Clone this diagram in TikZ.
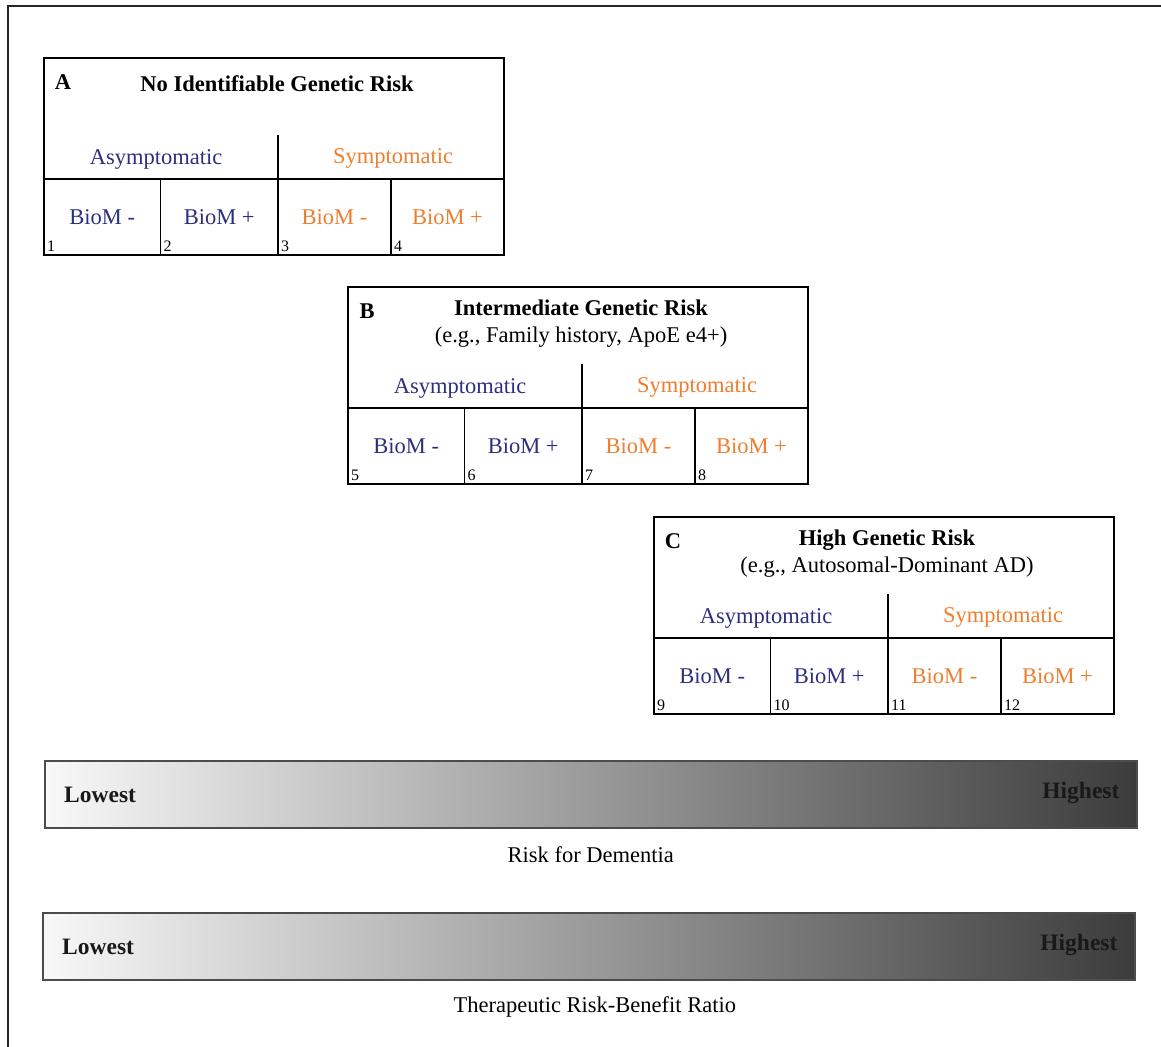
\documentclass[tikz,border=0pt]{standalone}
\usepackage{fontspec}
\setmainfont{Liberation Serif}
\definecolor{navy}{RGB}{44,47,128}
\definecolor{orng}{RGB}{238,126,46}
\definecolor{barL}{RGB}{248,248,248}
\definecolor{barR}{RGB}{60,60,60}
\newcommand\figfont{\fontsize{22.5}{26}\selectfont}
\newcommand\riskpanel[9]{%
  \begin{scope}[shift={(#2,#3)}]
    \node[panelbox] (#1box) at (0,0) {};
    \node[lettr] (#1let) at (19,24) {#1};
    \node[ttl] (#1ttl) at (233,#5) {#4};
    \node[hdr, text=navy] (#1asym) at (112,101) {Asymptomatic};
    \node[hdr, text=orng] (#1sym) at (349,100) {Symptomatic};
    \coordinate (#1vt) at (234,77);
    \coordinate (#1vb) at (234,121);
    \draw[inner] (#1vt) -- (#1vb);
    \node[cell, minimum width=116.5pt, text=navy] (#1c1) at (0,121) {BioM -};
    \node[cell, minimum width=117.5pt, text=navy] (#1c2) at (116.5,121) {BioM +};
    \node[cell, minimum width=113pt, text=orng] (#1c3) at (234,121) {BioM -};
    \node[cell, minimum width=113pt, text=orng] (#1c4) at (347,121) {\raisebox{-2pt}{BioM +}};
    \node[numlbl] (#1n1) at ([xshift=3pt,yshift=4pt]#1c1.south west) {#6};
    \node[numlbl] (#1n2) at ([xshift=3pt,yshift=4pt]#1c2.south west) {#7};
    \node[numlbl] (#1n3) at ([xshift=3pt,yshift=4pt]#1c3.south west) {#8};
    \node[numlbl] (#1n4) at ([xshift=3pt,yshift=4pt]#1c4.south west) {#9};
  \end{scope}}
\begin{document}
\begin{tikzpicture}[x=1pt,y=-1pt,
  panelbox/.style={draw=black, line width=1.8pt, anchor=north west, minimum width=460pt, minimum height=197pt, inner sep=0pt, outer sep=0pt},
  inner/.style={draw=black, line width=1.3pt},
  cell/.style={draw=black, line width=1.3pt, anchor=north west, minimum height=76pt, inner sep=0pt, outer sep=0pt, font=\figfont},
  lettr/.style={font=\figfont\bfseries, inner sep=0pt},
  ttl/.style={font=\figfont, align=center, inner sep=0pt},
  hdr/.style={font=\figfont, inner sep=0pt},
  numlbl/.style={font=\fontsize{16}{18}\selectfont, anchor=base west, inner sep=0pt},
  bar/.style={draw=black!70, line width=1.6pt, anchor=north west, minimum width=1092pt, minimum height=67pt, inner sep=0pt, left color=barL, right color=barR},
  barlbl/.style={font=\fontsize{23.5}{27}\selectfont\bfseries, inner sep=0pt, text=black!90},
  caption/.style={font=\figfont, inner sep=0pt},
  frame/.style={draw=black!85, line width=1.8pt}]
\useasboundingbox (0,0) rectangle (1161,1046);
% outer frame
\coordinate (fbl) at (8,1047);
\coordinate (ftl) at (8,6);
\coordinate (ftr) at (1162,6);
\draw[frame] (fbl) -- (ftl) -- (ftr);
% panels
\riskpanel{A}{44}{58}{\textbf{No Identifiable Genetic Risk}}{26}{1}{2}{3}{4}
\riskpanel{B}{348}{287}{\textbf{Intermediate Genetic Risk}\\[1pt](e.g., Family history, ApoE e4+)}{36.5}{5}{6}{7}{8}
\riskpanel{C}{654}{517}{\textbf{High Genetic Risk}\\[1pt](e.g., Autosomal-Dominant AD)}{36.5}{9}{10}{11}{12}
% bars
\node[bar] (bar1) at (44,760) {};
\node[barlbl, anchor=west] (low1) at ([xshift=20pt,yshift=-1pt]bar1.west) {Lowest};
\node[barlbl, anchor=east] (high1) at ([xshift=-18pt,yshift=1pt]bar1.east) {Highest};
\node[caption] (cap1) at ([yshift=-26pt]bar1.south) {Risk for Dementia};
\node[bar] (bar2) at (42,912) {};
\node[barlbl, anchor=west] (low2) at ([xshift=20pt,yshift=-1pt]bar2.west) {Lowest};
\node[barlbl, anchor=east] (high2) at ([xshift=-18pt,yshift=1pt]bar2.east) {Highest};
\node[caption] (cap2) at ([xshift=6pt,yshift=-26pt]bar2.south) {Therapeutic Risk-Benefit Ratio};
\end{tikzpicture}
\end{document}
